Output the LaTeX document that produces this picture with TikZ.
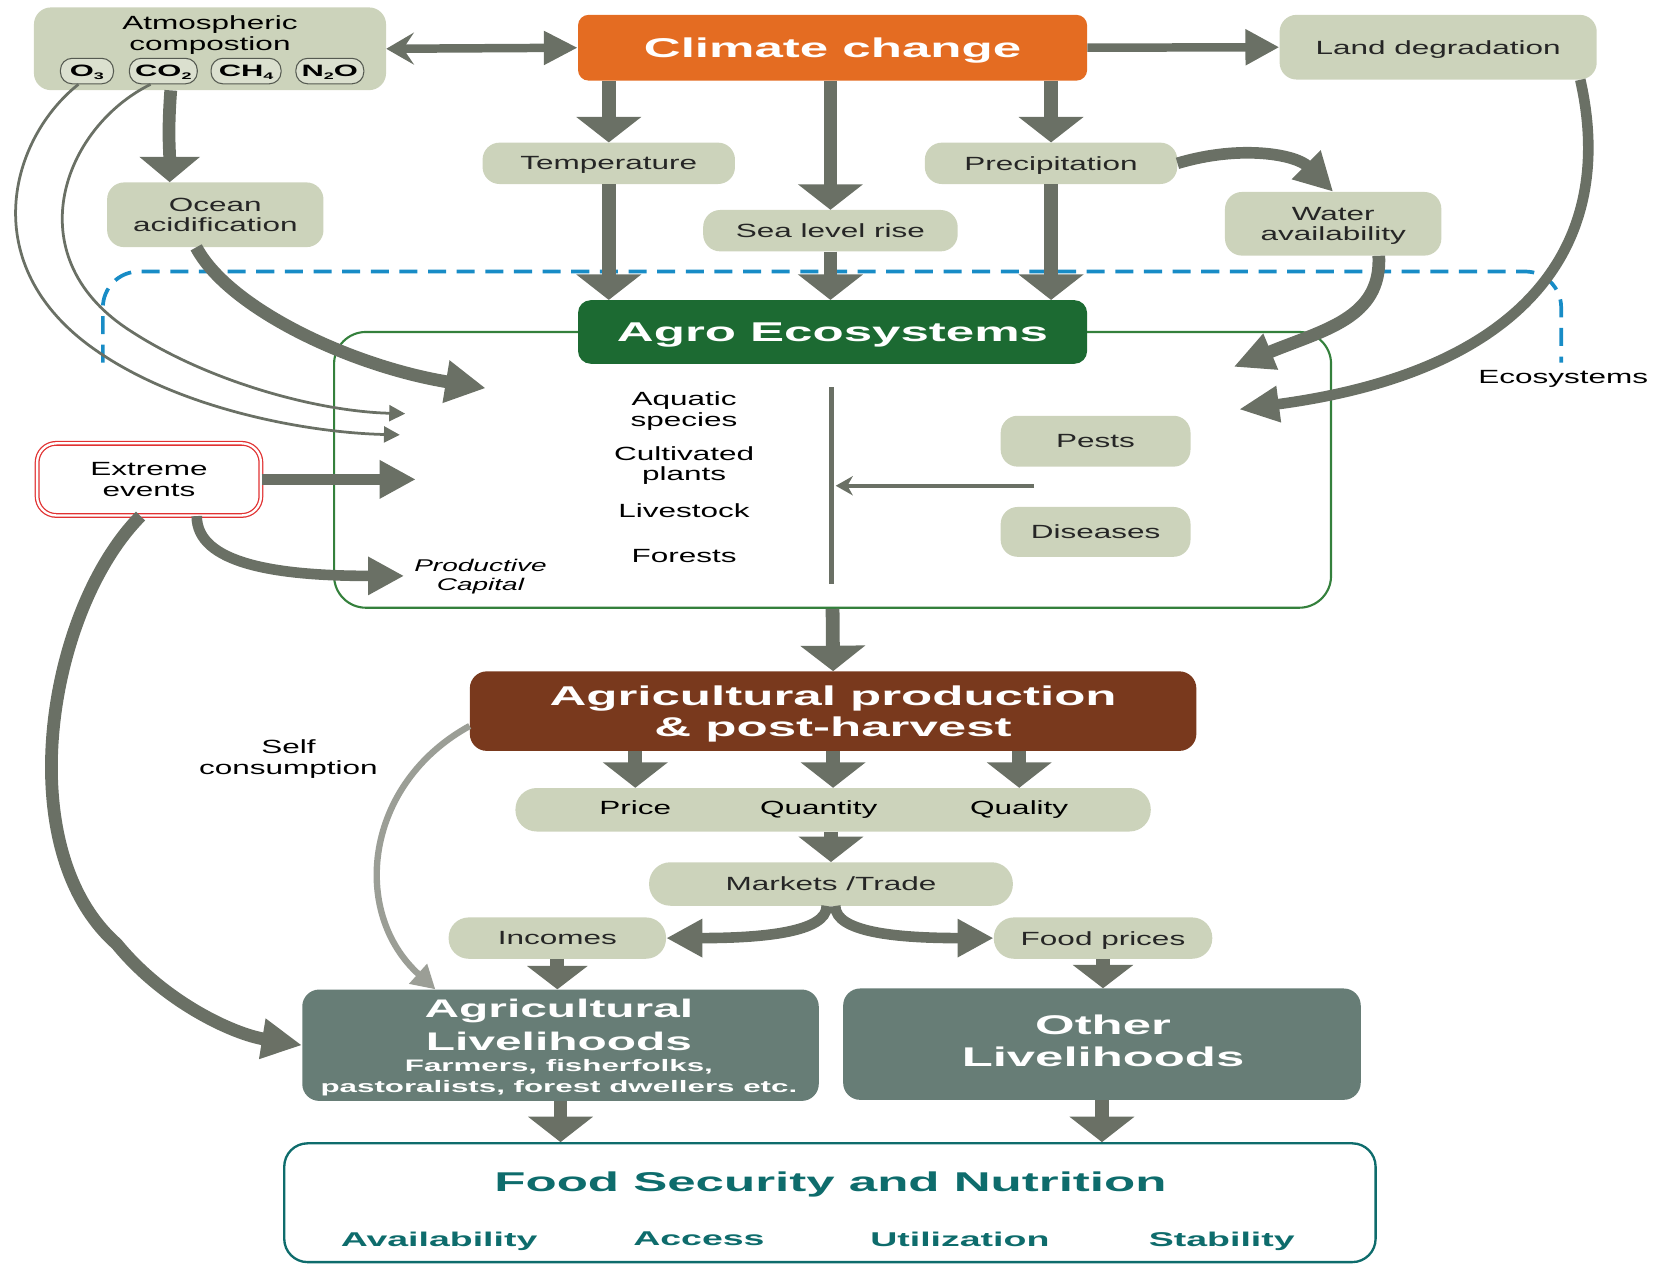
\documentclass[tikz,border=0pt]{standalone}
\usepackage{fontspec}
\setmainfont{Liberation Sans}
\newfontfamily\rgf[FakeStretch=1.65]{Liberation Sans}
\newfontfamily\bdf[FakeStretch=1.88]{Liberation Sans}
\usetikzlibrary{arrows.meta}
\definecolor{sage}{RGB}{204,211,187}
\definecolor{arrc}{RGB}{106,112,101}
\definecolor{ccor}{RGB}{228,108,34}
\definecolor{agrog}{RGB}{28,106,50}
\definecolor{frameg}{RGB}{52,128,60}
\definecolor{brownp}{RGB}{121,57,29}
\definecolor{slate}{RGB}{103,125,118}
\definecolor{tealc}{RGB}{14,108,108}
\definecolor{ecoblue}{RGB}{24,140,198}
\definecolor{redx}{RGB}{225,50,50}
\definecolor{selfc}{RGB}{155,158,150}
\newcommand{\sbx}[1]{\raisebox{-3pt}{\fontsize{9}{9}\selectfont #1}}
\begin{document}
\begin{tikzpicture}[x=1pt,y=-1pt,
 rgtxt/.style={font=\rgf\fontsize{18}{19.5}\selectfont, align=center, inner sep=0pt, text depth=0pt},
 sbox/.style={rgtxt, fill=sage, rounded corners=16pt, text=black!85},
 pill/.style={draw=arrc!80!black, line width=1pt, fill=sage!70!white, rounded corners=11pt, minimum height=24pt, inner sep=0pt, text depth=0pt, font=\bdf\bfseries\fontsize{15.5}{15.5}\selectfont},
 titletxt/.style={font=\bdf\bfseries\fontsize{25.6}{30}\selectfont, text=white, align=center, inner sep=0pt, text depth=0pt},
 bigarr/.style={draw=arrc, line width=13pt, -{Triangle[length=24pt,width=60pt]}},
 midarr/.style={draw=arrc, line width=10pt, -{Triangle[length=34pt,width=34pt]}},
 thinarr/.style={draw=arrc, line width=2.6pt, -{Triangle[length=15pt,width=15pt]}},
 toparr/.style={draw=arrc, line width=8pt},
 fstxt/.style={font=\bdf\bfseries\fontsize{18.8}{20}\selectfont, text=tealc, inner sep=0pt, text depth=0pt}
]
\useasboundingbox (0,0) rectangle (1568,1191);

% ---- ecosystems dashed boundary
\draw[ecoblue, line width=3.5pt, dash pattern=on 17pt off 10pt, rounded corners=34pt]
  (97,342) -- (97,256) -- (1472,256) -- (1472,342);
\node[rgtxt] (ecot) at (1474,355) {Ecosystems};

% ---- top row
\node[sbox, minimum width=332pt, minimum height=78pt] (atm) at (198,46) {};
\node[rgtxt] (atmt) at (198,31) {Atmospheric\\compostion};
\node[pill, minimum width=50pt] (o3) at (82,67) {O\sbx{3}};
\node[pill, minimum width=64pt] (co2) at (154,67) {CO\sbx{2}};
\node[pill, minimum width=66pt] (ch4) at (232,67) {CH\sbx{4}};
\node[pill, minimum width=64pt] (n2o) at (311,67) {N\sbx{2}O};

\node[titletxt, fill=ccor, rounded corners=10pt, minimum width=480pt, minimum height=62pt] (cc) at (785,45) {Climate change};
\node[sbox, minimum width=299pt, minimum height=61pt] (land) at (1356,44.5) {Land degradation};

\node[sbox, minimum width=238pt, minimum height=39pt] (temp) at (574,154) {Temperature};
\node[sbox, minimum width=238pt, minimum height=39pt] (prec) at (991,154) {Precipitation};
\node[sbox, minimum width=240pt, minimum height=39pt] (slr) at (783,217.5) {Sea level rise};
\node[sbox, minimum width=204pt, minimum height=61pt] (ocean) at (203,202.5) {Ocean\\acidification};
\node[sbox, minimum width=204pt, minimum height=60pt] (water) at (1257,211) {Water\\availability};

% ---- agro ecosystems
\node[draw=frameg, line width=2pt, rounded corners=30pt, minimum width=940pt, minimum height=260pt] (agrof) at (785,443) {};
\node[titletxt, fill=agrog, rounded corners=12pt, minimum width=480pt, minimum height=60pt] (agro) at (785,313) {Agro Ecosystems};

\node[rgtxt] (aq) at (645,386) {Aquatic\\species};
\node[rgtxt] (cu) at (645,437) {Cultivated\\plants};
\node[rgtxt] (lv) at (645,481) {Livestock};
\node[rgtxt] (fo) at (645,524) {Forests};
\coordinate (vtop) at (784,365);
\coordinate (vbot) at (784,551);
\draw[arrc, line width=4.5pt] (vtop) -- (vbot);
\node[sbox, minimum width=179pt, minimum height=48pt] (pests) at (1033,416) {Pests};
\node[sbox, minimum width=179pt, minimum height=47pt] (dis) at (1033,501.5) {Diseases};
\coordinate (pdsrc) at (975,458);
\coordinate (pdtip) at (788,458);
\draw[arrc, line width=4pt, -{Stealth[length=16pt,width=18pt,inset=5pt]}] (pdsrc) -- (pdtip);

\node[rgtxt, draw=redx, double=white, double distance=2.2pt, line width=1.2pt, fill=white, rounded corners=18pt, minimum width=211pt, minimum height=68pt] (ext) at (140.5,452) {Extreme\\events};
\node[font=\rgf\itshape\fontsize{16}{18}\selectfont, align=center, inner sep=0pt, text depth=0pt] (prodc) at (453,542) {Productive\\Capital};

% ---- lower part
\node[titletxt, fill=brownp, rounded corners=16pt, minimum width=685pt, minimum height=75pt] (aph) at (785.5,670.5) {Agricultural production\\\& post-harvest};
\node[sbox, minimum width=599pt, minimum height=41pt, rounded corners=20pt] (bar) at (785.5,763.5) {};
\node[rgtxt] (pr) at (599,761) {Price};
\node[rgtxt] (qt) at (772,761) {Quantity};
\node[rgtxt] (ql) at (961,761) {Quality};
\node[sbox, minimum width=343pt, minimum height=41pt, rounded corners=20pt] (mkt) at (783.5,833.5) {Markets /Trade};
\node[sbox, minimum width=205pt, minimum height=39pt, rounded corners=19pt] (inc) at (525.5,884.5) {Incomes};
\node[sbox, minimum width=206pt, minimum height=39pt, rounded corners=19pt] (fp) at (1040,884.5) {Food prices};
\node[rgtxt] (selft) at (272,714) {Self\\consumption};

\node[fill=slate, rounded corners=16pt, minimum width=487pt, minimum height=105pt] (agl) at (528.5,985.5) {};
\node[titletxt, font=\bdf\bfseries\fontsize{24}{31}\selectfont] (aglt) at (527,966.5) {Agricultural\\Livelihoods};
\node[titletxt, font=\bdf\bfseries\fontsize{15.7}{19}\selectfont] (agls) at (527,1014.5) {Farmers, fisherfolks,\\pastoralists, forest dwellers etc.};
\node[fill=slate, rounded corners=16pt, minimum width=488pt, minimum height=105pt] (oth) at (1039,984.5) {};
\node[titletxt, font=\bdf\bfseries\fontsize{25.5}{30}\selectfont] (otht) at (1040,981) {Other\\Livelihoods};

\node[draw=tealc, line width=2.2pt, rounded corners=22pt, minimum width=1029pt, minimum height=112pt] (fs) at (782.5,1134) {};
\node[fstxt, font=\bdf\bfseries\fontsize{25.6}{30}\selectfont] (fst) at (783,1114) {Food Security and Nutrition};
\node[fstxt] (fa) at (414,1168) {Availability};
\node[fstxt] (fb) at (659,1168) {Access};
\node[fstxt] (fc) at (905,1168) {Utilization};
\node[fstxt] (fd) at (1152,1168) {Stability};

% ---- connectors top
\draw[toparr, {Stealth[length=26pt,width=30pt,inset=10pt]}-{Triangle[length=32pt,width=30pt]}] (atm.east) -- (cc.west);
\draw[toparr, -{Triangle[length=32pt,width=32pt]}] (cc.east) -- (land.west);
\draw[bigarr] (cc.south -| temp.north) -- (temp.north);
\draw[bigarr] (cc.south -| slr.north) -- (slr.north);
\draw[bigarr] (cc.south -| prec.north) -- (prec.north);
\draw[bigarr] (temp.south) -- (agro.north -| temp.south);
\draw[bigarr] (slr.south) -- (agro.north -| slr.south);
\draw[bigarr] (prec.south) -- (agro.north -| prec.south);
\draw[bigarr, line width=12pt, -{Triangle[length=24pt,width=56pt]}] ([xshift=-37pt]atm.south) .. controls +(-3,40) and +(0,-30) .. ([xshift=-43pt]ocean.north);
\draw[midarr, line width=11pt, -{Triangle[length=36pt,width=36pt]}] (prec.east) .. controls +(60,-18) and +(-35,-35) .. (water.north);

% ---- connectors into agro ecosystems
\coordinate (octip) at (458,366);
\draw[midarr, line width=12pt, -{Triangle[length=38pt,width=38pt]}] ([xshift=-18pt]ocean.south) .. controls +(30,57) and +(-128,-21) .. (octip);
\coordinate (o3tip) at (377,410);
\coordinate (co2tip) at (382,390);
\draw[thinarr] ([xshift=-8pt]o3.south) .. controls (10,130) and (-25,250) .. (90,330) .. controls (170,386) and (290,408) .. (o3tip);
\draw[thinarr] ([xshift=-12pt]co2.south) .. controls (60,120) and (15,240) .. (120,310) .. controls (195,360) and (300,388) .. (co2tip);
\coordinate (landtip) at (1168,386);
\draw[midarr, -{Triangle[length=38pt,width=32pt]}] ([xshift=134pt]land.south) .. controls (1525,230) and (1440,350) .. (landtip);
\coordinate (wattip) at (1163,346);
\draw[midarr, line width=12pt, -{Triangle[length=38pt,width=34pt]}] ([xshift=43pt]water.south) .. controls +(3,59) and +(85,-35) .. (wattip);
\coordinate (exttip) at (392,452);
\draw[midarr] (ext.east) -- (exttip);
\coordinate (prodtip) at (381,543);
\draw[midarr] ([xshift=45pt]ext.south) .. controls +(0,45) and +(-120,0) .. (prodtip);
\draw[midarr, line width=12pt, -{Triangle[length=38pt,width=36pt]}] ([xshift=-8pt]ext.south) .. controls (45,575) and (8,800) .. (110,890) .. controls (155,945) and (220,975) .. (agl.west);

% ---- lower connectors
\draw[bigarr] (agrof.south) -- (aph.north);
\draw[bigarr] (aph.south -| pr.north) -- (bar.north -| pr.north);
\draw[bigarr] (aph.south) -- (bar.north);
\draw[bigarr] (aph.south -| ql.north) -- (bar.north -| ql.north);
\draw[bigarr] (bar.south -| mkt.north) -- (mkt.north);
\draw[midarr] ([xshift=-4pt]mkt.south) .. controls +(0,25) and +(90,0) .. (inc.east);
\draw[midarr] ([xshift=4pt]mkt.south) .. controls +(0,25) and +(-90,0) .. (fp.west);
\draw[bigarr, -{Triangle[length=22pt,width=56pt]}] (inc.south) -- (agl.north -| inc.south);
\draw[bigarr, -{Triangle[length=22pt,width=56pt]}] (fp.south) -- (oth.north -| fp.south);
\draw[bigarr] (agl.south) -- (fs.north -| agl.south);
\draw[bigarr] (oth.south) -- (fs.north -| oth.south);
\draw[selfc, line width=6pt, -{Triangle[length=22pt,width=24pt]}] ([yshift=-14pt]aph.west) .. controls +(-100,55) and +(-80,-72) .. ([xshift=-118pt]agl.north);
\end{tikzpicture}
\end{document}
